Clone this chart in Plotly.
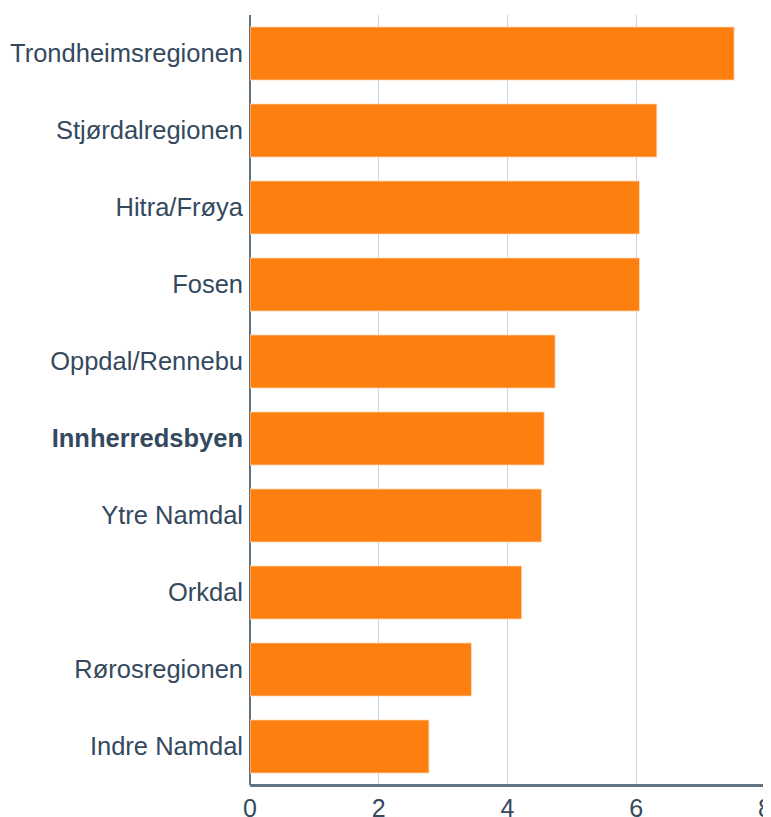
import plotly.graph_objects as go

regions = ["Trondheimsregionen", "Stjørdalregionen", "Hitra/Frøya", "Fosen",
           "Oppdal/Rennebu", "Innherredsbyen", "Ytre Namdal", "Orkdal",
           "Rørosregionen", "Indre Namdal"]
values = [7.52, 6.32, 6.05, 6.05, 4.74, 4.57, 4.53, 4.22, 3.44, 2.78]
highlight = "Innherredsbyen"
x_ticks = [0, 2, 4, 6, 8]

ticktext = [f"<b>{r}</b>" if r == highlight else r for r in regions]

fig = go.Figure(go.Bar(
    x=values, y=regions, orientation="h",
    marker=dict(color="#fd7f0f", line=dict(color="rgba(255,220,190,0.8)", width=1)),
    hoverinfo="x+y",
))

text_color = "#34495e"
axis_color = "#5f7382"
fig.update_layout(
    width=763, height=809,
    margin=dict(l=242, r=6, t=7, b=32),
    paper_bgcolor="white", plot_bgcolor="white",
    bargap=0.31,
    showlegend=False,
    font=dict(family="Liberation Sans, Arial, sans-serif", color=text_color, size=25.5),
    shapes=[dict(type="line", xref="paper", yref="paper", x0=0, x1=1, y0=0, y1=0,
                 line=dict(color=axis_color, width=2), layer="above")],
)
fig.update_xaxes(
    range=[0, 8], tickvals=x_ticks, ticktext=[str(t) for t in x_ticks],
    showgrid=True, gridcolor="#cdd5dc", gridwidth=1,
    showline=True, linecolor=axis_color, linewidth=2,
    zeroline=True, zerolinecolor=axis_color, zerolinewidth=2,
    tickfont=dict(size=25, color=text_color), ticks="",
    ticklabeloverflow="allow",
    automargin=False, fixedrange=True,
)
fig.update_yaxes(
    categoryorder="array", categoryarray=regions, autorange="reversed",
    tickvals=regions, ticktext=ticktext,
    showgrid=False, showline=False, ticks="",
    tickfont=dict(size=25.5, color=text_color), ticklabelstandoff=6,
    automargin=False, fixedrange=True,
)

fig.write_html("out.html")
